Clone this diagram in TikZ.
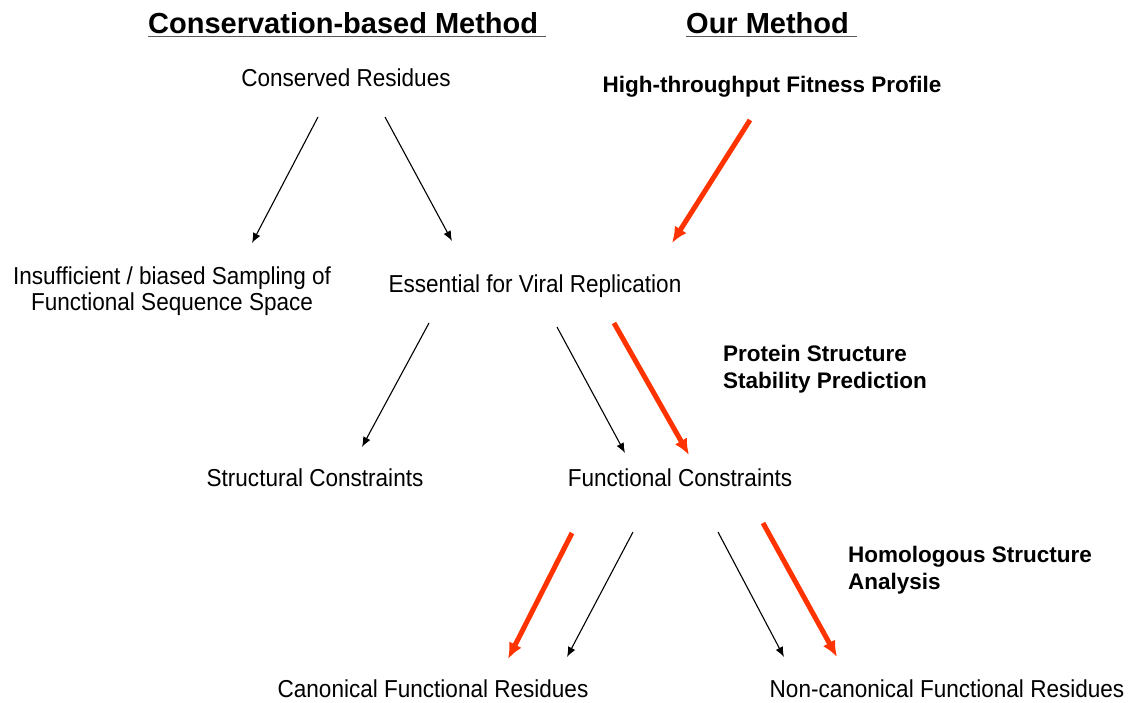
\documentclass[tikz,border=0pt]{standalone}
\usepackage{fontspec}
\usepackage{xcolor}
\setmainfont{Liberation Sans}
\newfontfamily\narrowsans[FakeStretch=0.92]{Liberation Sans}
\definecolor{ourred}{RGB}{255,51,0}
\usetikzlibrary{arrows.meta, positioning, calc}

\begin{document}
\begin{tikzpicture}[
x=1pt, y=-1pt,
plain/.style={inner sep=0, anchor=base, align=center, font=\narrowsans\fontsize{24.5}{26}\selectfont},
bold/.style={inner sep=0, anchor=base west, align=left, font=\bfseries\fontsize{22.5}{27}\selectfont},
title/.style={inner sep=0, anchor=base west, font=\bfseries\fontsize{29}{34}\selectfont},
uline/.style={draw=black!65, line width=1.8pt},
oldarrow/.style={-{Latex[length=10pt, width=8pt]}, line width=1.1pt},
newarrow/.style={-{Latex[length=16pt, width=14pt]}, line width=5pt, draw=ourred}
]
\useasboundingbox[fill=white] (0,0) rectangle (1130,702);

\node[title] (tcons) at (148,33) {Conservation-based Method};
\node[title] (tours) at (686,33) {Our Method};
\draw[uline] ($(tcons.base west)+(0,3.5)$) -- ($(tcons.base east)+(8,3.5)$);
\draw[uline] ($(tours.base west)+(0,3.5)$) -- ($(tours.base east)+(8,3.5)$);

\node[plain] (cons) at (346,86) {Conserved Residues};
\node[bold, anchor=base] (htfp) at (772,92) {High-throughput Fitness Profile};
\node[plain] (insuf) at (172,310) {Insufficient / biased Sampling of\\Functional Sequence Space};
\node[plain] (essen) at (535,292) {Essential for Viral Replication};
\node[bold] (psp) at (723,388) {Protein Structure\\Stability Prediction};
\node[plain] (struc) at (315,486) {Structural Constraints};
\node[plain] (func) at (680,486) {Functional Constraints};
\node[bold] (hsa) at (848,589) {Homologous Structure\\Analysis};
\node[plain] (canon) at (433,697) {Canonical Functional Residues};
\node[plain] (noncanon) at (947,697) {Non-canonical Functional Residues};

\draw[oldarrow] ($(cons.base)+(-28,31)$) -- ($(insuf.north)+(80,-23)$);
\draw[oldarrow] ($(cons.base)+(39,31)$) -- ($(essen.base)+(-83,-51)$);
\draw[newarrow] ($(htfp.base)+(-22,28)$) -- ($(essen.base)+(137,-49)$);
\draw[oldarrow] ($(essen.base)+(-106,31)$) -- ($(struc.base)+(47,-39)$);
\draw[oldarrow] ($(essen.base)+(22,35)$) -- ($(func.base)+(-55,-33)$);
\draw[newarrow] ($(essen.base)+(79,31)$) -- ($(func.base)+(9,-31)$);
\draw[newarrow] ($(func.base)+(-108,47)$) -- ($(canon.base)+(75,-38)$);
\draw[oldarrow] ($(func.base)+(-47,46)$) -- ($(canon.base)+(134,-40)$);
\draw[oldarrow] ($(func.base)+(38,46)$) -- ($(noncanon.base)+(-163,-40)$);
\draw[newarrow] ($(func.base)+(83,37)$) -- ($(noncanon.base)+(-110,-40)$);
\end{tikzpicture}
\end{document}
